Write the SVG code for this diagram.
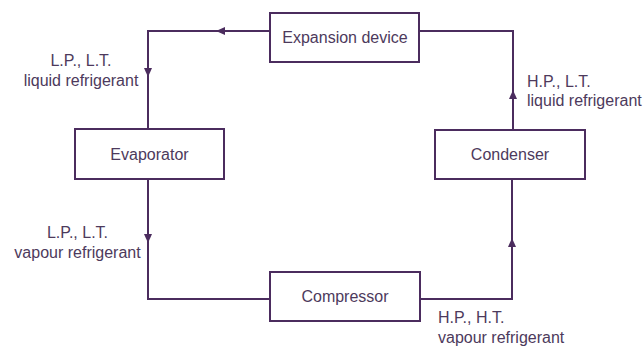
<svg xmlns="http://www.w3.org/2000/svg" width="644" height="347" viewBox="0 0 644 347">
<style>
.box{fill:#fff;stroke:#4b2c5e;stroke-width:2}
.ln{fill:none;stroke:#4b2c5e;stroke-width:2}
.ah{fill:#4b2c5e}
text{font-family:"Liberation Sans",Arial,sans-serif;font-size:16px;fill:#4d3a5c}
.c{text-anchor:middle}
</style>
<rect width="644" height="347" fill="#fff"/>
<g id="connectors">
<path class="ln" d="M270,31 H148 V129"/>
<path class="ln" d="M148,179 V299 H270"/>
<path class="ln" d="M420,299 H512 V179"/>
<path class="ln" d="M513,130 V31 H419"/>
<polygon class="ah" points="216,31 225,27 225,35"/>
<polygon class="ah" points="148,77 144,68 152,68"/>
<polygon class="ah" points="148,243 144,234 152,234"/>
<polygon class="ah" points="512,238 508,247 516,247"/>
<polygon class="ah" points="513,90 509,99 517,99"/>
</g>
<g id="expansion"><rect class="box" x="270" y="13" width="149" height="49"/><text class="c" x="345" y="43">Expansion device</text></g>
<g id="evaporator"><rect class="box" x="75" y="129" width="149" height="50"/><text class="c" x="149.5" y="160">Evaporator</text></g>
<g id="condenser"><rect class="box" x="435" y="130" width="150" height="49"/><text class="c" x="510" y="160">Condenser</text></g>
<g id="compressor"><rect class="box" x="270" y="272" width="150" height="49"/><text class="c" x="345" y="302">Compressor</text></g>
<g id="labels">
<text class="c" x="81" y="66">L.P., L.T.</text>
<text class="c" x="81" y="86">liquid refrigerant</text>
<text class="c" x="77.5" y="238">L.P., L.T.</text>
<text class="c" x="77.5" y="258">vapour refrigerant</text>
<text x="527" y="87">H.P., L.T.</text>
<text x="527" y="106">liquid refrigerant</text>
<text x="438" y="323">H.P., H.T.</text>
<text x="438" y="343">vapour refrigerant</text>
</g>
</svg>
